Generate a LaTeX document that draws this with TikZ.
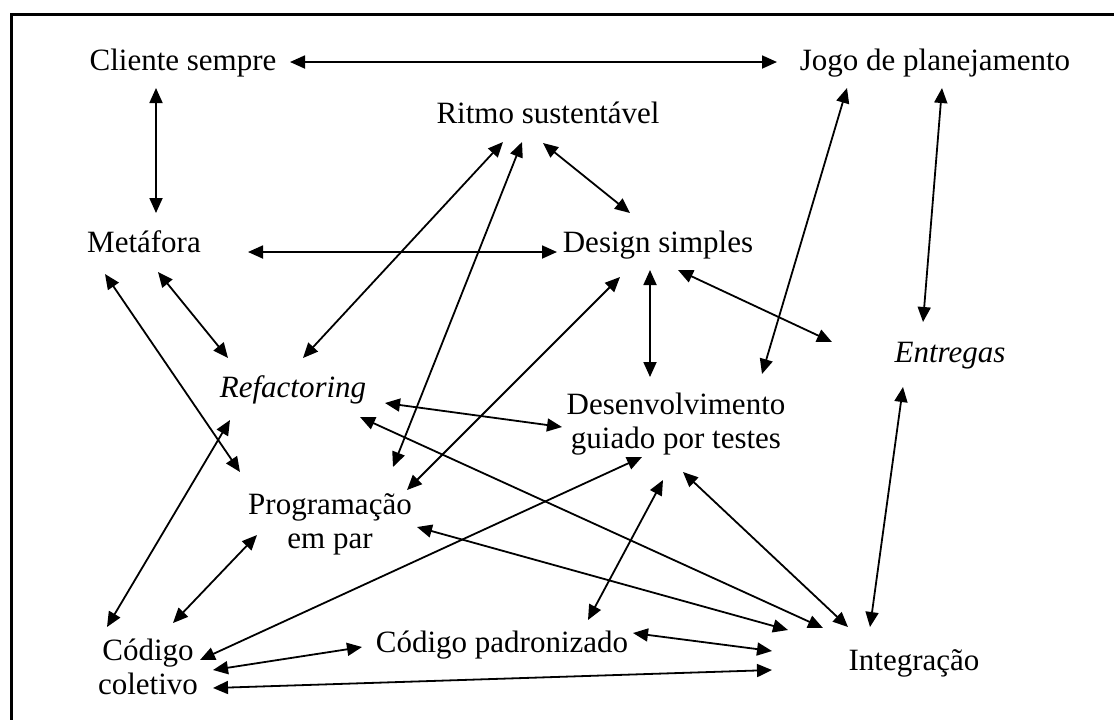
\documentclass[tikz,border=0pt]{standalone}
\usepackage{fontspec}
\setmainfont{Liberation Serif}
\usetikzlibrary{arrows.meta,calc}
\begin{document}
\begin{tikzpicture}[x=0.5pt,y=-0.5pt,
  concept/.style={anchor=base,inner sep=0pt,align=center,
    font=\fontsize{15.5}{16.8}\selectfont},
  link/.style={{Triangle[length=7.5pt,width=6.5pt]}-{Triangle[length=7.5pt,width=6.5pt]},
    line width=0.9pt},
  frame/.style={line width=1.5pt}]
\useasboundingbox (0,0) rectangle (1114,720);

% open frame: top and left edges
\coordinate (fr) at (1114,14);
\coordinate (fc) at (11,14);
\coordinate (fb) at (11,720);
\draw[frame] (fr) -- (fc) -- (fb);

% practices (two-line labels are placed by the baseline of their last line)
\node[concept] (cli)  at (183,70)  {Cliente sempre};
\node[concept] (jogo) at (935,70)  {Jogo de planejamento};
\node[concept] (rit)  at (548,123) {Ritmo sustentável};
\node[concept] (meta) at (144,252) {Metáfora};
\node[concept] (des)  at (658,252) {Design simples};
\node[concept] (ent)  at (950,362) {\itshape Entregas};
\node[concept] (ref)  at (293,397) {\itshape Refactoring};
\node[concept] (tdd)  at (676,448) {Desenvolvimento\\guiado por testes};
\node[concept] (par)  at (330,548) {Programação\\em par};
\node[concept] (col)  at (148,694) {Código\\coletivo};
\node[concept] (pad)  at (502,652) {Código padronizado};
\node[concept] (int)  at (914,670) {Integração};

% relations
\draw[link] ($(cli.base)+(107,-8)$)  -- ($(jogo.base)+(-158,-8)$);
\draw[link] ($(cli.base)+(-27,18)$)  -- ($(meta.base)+(12,-39)$);
\draw[link] ($(meta.base)+(104,0)$)  -- ($(des.base)+(-101,0)$);
\draw[link] ($(rit.base)+(-45,19)$)  -- ($(ref.base)+(10,-39)$);
\draw[link] ($(rit.base)+(-26,19)$)  -- ($(par.base)+(63,-81)$);
\draw[link] ($(rit.base)+(-5,20)$)   -- ($(des.base)+(-28,-39)$);
\draw[link] ($(jogo.base)+(-88,18)$) -- ($(tdd.base)+(86,-74)$);
\draw[link] ($(jogo.base)+(7,18)$)   -- ($(ent.base)+(-27,-40)$);
\draw[link] ($(des.base)+(-8,18)$)   -- ($(tdd.base)+(-26,-71)$);
\draw[link] ($(des.base)+(20,18)$)   -- ($(ent.base)+(-118,-20)$);
\draw[link] ($(des.base)+(-38,25)$)  -- ($(par.base)+(77,-58)$);
\draw[link] ($(meta.base)+(14,20)$)  -- ($(ref.base)+(-65,-39)$);
\draw[link] ($(meta.base)+(-39,22)$) -- ($(par.base)+(-90,-76)$);
\draw[link] ($(ref.base)+(92,6)$)    -- ($(tdd.base)+(-114,-21)$);
\draw[link] ($(ref.base)+(67,20)$)   -- ($(int.base)+(-91,-42)$);
\draw[link] ($(par.base)+(87,-21)$)  -- ($(int.base)+(-126,-40)$);
\draw[link] ($(tdd.base)+(7,24)$)    -- ($(int.base)+(-66,-43)$);
\draw[link] ($(ent.base)+(-47,25)$)  -- ($(int.base)+(-44,-43)$);
\draw[link] ($(pad.base)+(131,-19)$) -- ($(int.base)+(-142,-19)$);
\draw[link] ($(col.base)+(65,-6)$)   -- ($(int.base)+(-142,0)$);
\draw[link] ($(col.base)+(65,-24)$)  -- ($(pad.base)+(-140,-5)$);
\draw[link] ($(col.base)+(52,-34)$)  -- ($(tdd.base)+(-34,9)$);
\draw[link] ($(col.base)+(25,-71)$)  -- ($(par.base)+(-73,-13)$);
\draw[link] ($(col.base)+(-41,-67)$) -- ($(ref.base)+(-63,23)$);
\draw[link] ($(pad.base)+(86,-32)$)  -- ($(tdd.base)+(-13,32)$);
\end{tikzpicture}
\end{document}
